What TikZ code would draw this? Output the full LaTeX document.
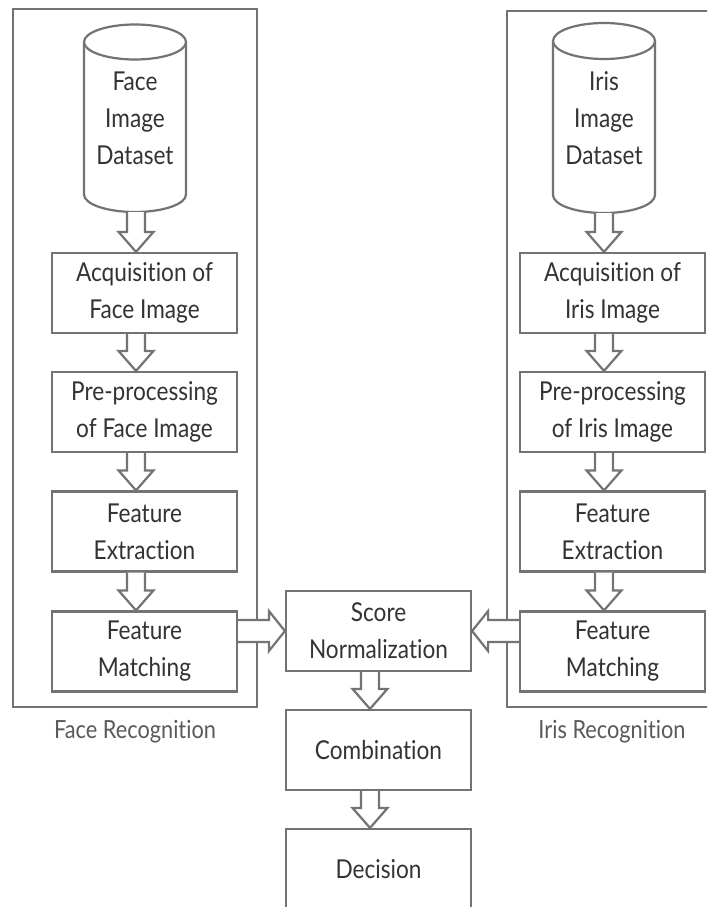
\documentclass[tikz,border=0pt]{standalone}
\usepackage{fontspec}
\setmainfont{Lato}[FakeStretch=0.87, Ligatures=NoCommon]
\usetikzlibrary{calc}
\definecolor{linec}{HTML}{737373}
\definecolor{txtc}{HTML}{333333}
\definecolor{lblc}{HTML}{5A5A5A}
\tikzset{
  stepbox/.style={draw=linec, line width=2.2pt, fill=white, minimum width=185pt, minimum height=80pt,
    inner sep=0pt, align=center, text=txtc, font=\fontsize{26}{37}\selectfont},
  groupbox/.style={draw=linec, line width=2.2pt, inner sep=0pt},
  cyl/.style={draw=linec, line width=2.2pt, fill=white},
  cyltext/.style={align=center, text=txtc, font=\fontsize{26}{37}\selectfont},
  grouplbl/.style={text=lblc, font=\fontsize{25}{28}\selectfont},
  blkdown/.style={draw=linec, line width=2.2pt, fill=white,
    to path={let \p1=(\tikztostart), \p2=(\tikztotarget) in
      (\x1-9pt,\y1) -- (\x1-9pt,\y2+20pt) -- (\x1-17.5pt,\y2+20pt) -- (\x1,\y2)
      -- (\x1+17.5pt,\y2+20pt) -- (\x1+9pt,\y2+20pt) -- (\x1+9pt,\y1)}},
  blkright/.style={draw=linec, line width=2.2pt, fill=white,
    to path={let \p1=(\tikztostart), \p2=(\tikztotarget) in
      (\x1,\y1+11pt) -- (\x2-16pt,\y1+11pt) -- (\x2-16pt,\y1+20pt) -- (\x2,\y1)
      -- (\x2-16pt,\y1-20pt) -- (\x2-16pt,\y1-11pt) -- (\x1,\y1-11pt)}},
  blkleft/.style={draw=linec, line width=2.2pt, fill=white,
    to path={let \p1=(\tikztostart), \p2=(\tikztotarget) in
      (\x1,\y1+11pt) -- (\x2+16pt,\y1+11pt) -- (\x2+16pt,\y1+20pt) -- (\x2,\y1)
      -- (\x2+16pt,\y1-20pt) -- (\x2+16pt,\y1-11pt) -- (\x1,\y1-11pt)}},
}
\begin{document}
\begin{tikzpicture}[x=1pt,y=-1pt]
\useasboundingbox (0,0) rectangle (707,907);
\clip (0,0) rectangle (707,907);
\fill[white] (0,0) rectangle (707,907);

% group containers
\node[groupbox, minimum width=244pt, minimum height=698pt] (lgrp) at (135,358) {};
\node[groupbox, minimum width=205pt, minimum height=696pt] (rgrp) at (609.5,359) {};

% left cylinder
\draw[cyl] (84,42) -- (84,194.5) arc[start angle=180, end angle=0, x radius=51, y radius=17.5] -- (186,42);
\draw[cyl] (135,42) ellipse [x radius=51, y radius=17.5];
\node[cyltext] (ldb) at (135,118) {Face\\Image\\Dataset};
\coordinate (lcb) at (136,212);

% right cylinder
\draw[cyl] (553,41) -- (553,195) arc[start angle=180, end angle=0, x radius=51, y radius=18] -- (655,41);
\draw[cyl] (604,41) ellipse [x radius=51, y radius=18];
\node[cyltext] (rdb) at (604,118) {Iris\\Image\\Dataset};
\coordinate (rcb) at (604,213);

% left column
\node[stepbox] (lacq) at (144.5,293) {Acquisition of\\Face Image};
\node[stepbox] (lpre) at (144.5,412) {Pre-processing\\of Face Image};
\node[stepbox] (lfe)  at (144.5,531.5) {Feature\\Extraction};
\node[stepbox] (lfm)  at (144.5,651.5) {Feature\\Matching};

% right column
\node[stepbox] (racq) at (612.5,293) {Acquisition of\\Iris Image};
\node[stepbox] (rpre) at (612.5,412) {Pre-processing\\of Iris Image};
\node[stepbox] (rfe)  at (612.5,531.5) {Feature\\Extraction};
\node[stepbox] (rfm)  at (612.5,651.5) {Feature\\Matching};

% centre column
\node[stepbox] (sn)  at (378.5,631) {Score\\Normalization};
\node[stepbox] (cmb) at (378.5,750) {Combination};
\node[stepbox] (dec) at (378.5,869) {Decision};

\coordinate (cc) at (370,0);

% labels
\node[grouplbl] (llbl) at (135,732) {Face Recognition};
\node[grouplbl] (rlbl) at (612,732) {Iris Recognition};

% vertical block arrows, left
\draw[blkdown] (lcb) to (lacq.north -| lcb);
\draw[blkdown] (lacq.south -| lcb) to (lpre.north -| lcb);
\draw[blkdown] (lpre.south -| lcb) to (lfe.north -| lcb);
\draw[blkdown] (lfe.south -| lcb) to (lfm.north -| lcb);

% vertical block arrows, right
\draw[blkdown] (rcb) to (racq.north -| rcb);
\draw[blkdown] (racq.south -| rcb) to (rpre.north -| rcb);
\draw[blkdown] (rpre.south -| rcb) to (rfe.north -| rcb);
\draw[blkdown] (rfe.south -| rcb) to (rfm.north -| rcb);

% centre arrows
\draw[blkdown] (sn.south -| cc) to (cmb.north -| cc);
\draw[blkdown] (cmb.south -| cc) to (dec.north -| cc);

% horizontal arrows
\draw[blkright] (lfm.east |- sn.west) to (sn.west);
\draw[blkleft] (rfm.west |- sn.east) to (sn.east);
\end{tikzpicture}
\end{document}
